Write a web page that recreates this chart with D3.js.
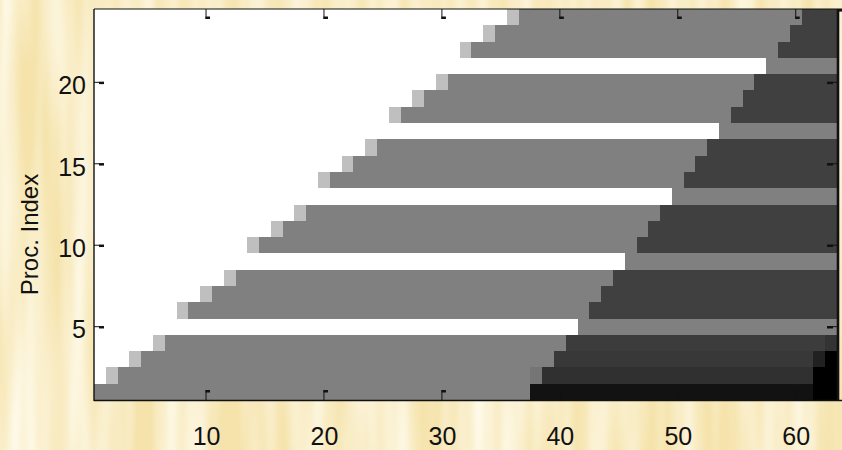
<!DOCTYPE html>
<html>
<head>
<meta charset="utf-8">
<script src="https://cdn.jsdelivr.net/npm/d3@7/dist/d3.min.js"></script>
<style>
  html, body { margin: 0; padding: 0; background: #f8e9ba; }
  svg { display: block; }
  text { font-family: "Liberation Sans", Arial, sans-serif; fill: #111; }
</style>
</head>
<body>
<svg id="chart" width="842" height="450"></svg>
<script>
// Processor activity map: one row per processor, one cell per time step.
// Cell intensity: 1 = idle, 0.75 = start-up, 0.5 = busy, darker = finished.
const procIndex = [1,2,3,4,5,6,7,8,9,10,11,12,13,14,15,16,17,18,19,20,21,22,23,24];
const nSteps = 63;

// cells spent in each phase, per processor (remaining cells are "finished")
const idleCells  = [0,1,3,5,41,7,9,11,45,13,15,17,49,19,21,23,53,25,27,29,57,31,33,35];
const startCells = [0,1,1,1,0,1,1,1,0,1,1,1,0,1,1,1,0,1,1,1,0,1,1,1];
const busyCells  = [37,36,35,34,22,34,33,32,18,32,31,30,14,30,29,28,10,28,27,26,6,26,25,24];

// intensity of each phase
const idleLevel = 1, startLevel = 0.75, busyLevel = 0.5;
const doneLevel = [0.07,0.19,0.22,0.235,0.25,0.25,0.25,0.25,0.25,0.25,0.25,0.25,
                   0.25,0.25,0.25,0.25,0.25,0.25,0.25,0.25,0.25,0.25,0.25,0.25];

// individual cells that differ from their phase intensity
const oddProc  = [1, 1, 2,    2, 2, 3,    3, 4];
const oddStep  = [62,63,38,   62,63,62,   63,63];
const oddLevel = [0, 0, 0.46, 0, 0, 0.13, 0, 0.2];

const xTicks = [10,20,30,40,50,60];
const yTicks = [5,10,15,20];
const yTitle = "Proc. Index";

const svg = d3.select("#chart");
const W = 842, H = 450;
const plot = { left: 94, right: 837, top: 9, bottom: 400 };

// ---- textured backdrop ----
const defs = svg.append("defs");
const grain = defs.append("filter").attr("id", "grain")
  .attr("x", 0).attr("y", 0).attr("width", "100%").attr("height", "100%");
grain.append("feTurbulence").attr("type", "fractalNoise")
  .attr("baseFrequency", "0.045 0.0035").attr("numOctaves", 2).attr("seed", 11);
grain.append("feColorMatrix").attr("type", "matrix")
  .attr("values", "0 0 0 0 0.995  0 0 0 0 0.96  0 0 0 0 0.83  1.7 0 0 0 -0.45");
svg.append("rect").attr("width", W).attr("height", H).attr("fill", "#f5e3ab");
svg.append("rect").attr("width", W).attr("height", H).attr("filter", "url(#grain)");

// ---- scales ----
const x = d3.scaleLinear().domain([0.5, nSteps + 0.5]).range([plot.left, plot.right]);
const y = d3.scaleLinear().domain([0.5, procIndex.length + 0.5]).range([plot.bottom, plot.top]);
const shade = d3.scaleLinear().domain([0, 1]).range(["#000000", "#ffffff"]);

// ---- build the cell grid ----
const grid = procIndex.map((p, i) => {
  const row = [];
  for (let k = 0; k < idleCells[i]; k++) row.push(idleLevel);
  for (let k = 0; k < startCells[i]; k++) row.push(startLevel);
  for (let k = 0; k < busyCells[i]; k++) row.push(busyLevel);
  while (row.length < nSteps) row.push(doneLevel[i]);
  return row;
});
oddProc.forEach((p, j) => { grid[p - 1][oddStep[j] - 1] = oddLevel[j]; });

// merge equal neighbouring cells into runs
const runs = [];
grid.forEach((row, i) => {
  let s = 0;
  for (let c = 1; c <= row.length; c++) {
    if (c === row.length || row[c] !== row[s]) {
      runs.push({ proc: procIndex[i], from: s + 1, to: c, v: row[s] });
      s = c;
    }
  }
});

svg.append("g").attr("shape-rendering", "crispEdges")
  .selectAll("rect").data(runs).join("rect")
  .attr("x", d => x(d.from - 0.5))
  .attr("width", d => x(d.to + 0.5) - x(d.from - 0.5))
  .attr("y", d => y(d.proc + 0.5))
  .attr("height", d => y(d.proc - 0.5) - y(d.proc + 0.5))
  .attr("fill", d => shade(d.v));

// ---- frame ----
const frame = svg.append("g").attr("stroke", "#111");
frame.append("line").attr("x1", plot.left).attr("x2", 842).attr("y1", plot.top).attr("y2", plot.top).attr("stroke-width", 1.2);
frame.append("line").attr("x1", plot.left).attr("x2", 842).attr("y1", plot.bottom + 0.5).attr("y2", plot.bottom + 0.5).attr("stroke-width", 1.6);
frame.append("line").attr("x1", plot.left).attr("x2", plot.left).attr("y1", plot.top).attr("y2", plot.bottom + 1).attr("stroke-width", 1.4);
frame.append("line").attr("x1", plot.right + 1).attr("x2", plot.right + 1).attr("y1", plot.top).attr("y2", plot.bottom + 1).attr("stroke-width", 2.6);
svg.append("rect").attr("x", plot.right).attr("y", plot.top).attr("width", 5).attr("height", 2.6).attr("fill", "#111");

// ---- inward tick marks ----
const tickLen = 10;
const ticks = svg.append("g");
xTicks.forEach(v => {
  const px = x(v);
  ticks.append("line").attr("x1", px).attr("x2", px).attr("y1", plot.top).attr("y2", plot.top + tickLen).attr("stroke", "#111").attr("stroke-width", 1);
  ticks.append("rect").attr("x", px - 0.5).attr("y", plot.top + tickLen - 2.5).attr("width", 4.5).attr("height", 2.5).attr("fill", "#111");
  ticks.append("line").attr("x1", px).attr("x2", px).attr("y1", plot.bottom).attr("y2", plot.bottom - tickLen).attr("stroke", "#111").attr("stroke-width", 1);
  ticks.append("rect").attr("x", px - 0.5).attr("y", plot.bottom - tickLen).attr("width", 4.5).attr("height", 2.5).attr("fill", "#111");
});
yTicks.forEach(v => {
  const py = y(v);
  ticks.append("line").attr("x1", plot.left).attr("x2", plot.left + tickLen).attr("y1", py).attr("y2", py).attr("stroke", "#111").attr("stroke-width", 1);
  ticks.append("rect").attr("x", plot.left + tickLen - 5).attr("y", py - 0.5).attr("width", 5).attr("height", 2.3).attr("fill", "#111");
  ticks.append("line").attr("x1", plot.right).attr("x2", plot.right - tickLen).attr("y1", py).attr("y2", py).attr("stroke", "#111").attr("stroke-width", 1);
  ticks.append("rect").attr("x", plot.right - tickLen).attr("y", py - 0.5).attr("width", 6).attr("height", 2.3).attr("fill", "#111");
});

// ---- tick labels through d3 axes ----
const xAxis = svg.append("g").attr("transform", `translate(0,${plot.bottom})`)
  .call(d3.axisBottom(x).tickValues(xTicks).tickSize(0).tickPadding(27).tickFormat(d3.format("d")));
const yAxis = svg.append("g").attr("transform", `translate(${plot.left},0)`)
  .call(d3.axisLeft(y).tickValues(yTicks).tickSize(0).tickPadding(8).tickFormat(d3.format("d")));
[xAxis, yAxis].forEach(g => {
  g.select(".domain").remove();
  g.selectAll("text").attr("font-size", 25).attr("font-family", "'Liberation Sans', Arial, sans-serif").attr("fill", "#111");
});
yAxis.selectAll("text").attr("dy", "0.45em");

// ---- axis title ----
svg.append("text")
  .attr("transform", `translate(38,${(plot.top + plot.bottom) / 2 + 30}) rotate(-90)`)
  .attr("text-anchor", "middle")
  .attr("font-size", 24)
  .text(yTitle);
</script>
</body>
</html>
